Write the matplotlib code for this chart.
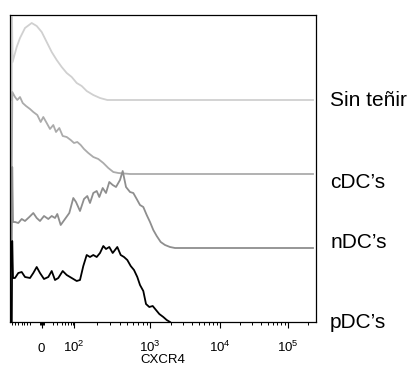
import matplotlib
matplotlib.use("Agg")
import matplotlib.pyplot as plt
import matplotlib.transforms as mtransforms
import numpy as np

plt.rcParams['font.family'] = ['Liberation Sans', 'DejaVu Sans']
plt.rcParams['mathtext.fontset'] = 'custom'
plt.rcParams['mathtext.rm'] = 'Liberation Sans'
plt.rcParams['mathtext.it'] = 'Liberation Sans:italic'
plt.rcParams['mathtext.bf'] = 'Liberation Sans:bold'

# ---- data (x = display channel, h = relative count) ----
sin_x = [1.8, 2.0, 2.6, 6.7, 10, 15, 21.7, 26.7, 31.7, 36.7, 41.7, 46.7, 51.7, 56.7,
         61.7, 66.7, 71.7, 76.7, 83.3, 90, 97.3, 303]
sin_h = [0, 83, 38, 53, 62, 72, 77, 74, 68, 58, 48, 40, 33, 27, 23, 17, 14, 9, 5, 2, 0, 0]

cdc_x = [1.8, 2.3, 5, 7.3, 10, 12.7, 16, 20, 23.3, 27.3, 30.7, 33.3, 36.7, 40, 43.3, 46,
         49.3, 52.7, 56.7, 60.7, 64, 67.3, 70.7, 74, 78.3, 83.3, 88.3, 93.3, 98.3, 103.3,
         108.3, 120, 303]
cdc_h = [0, 82, 77, 74, 77, 71, 68, 65, 62, 59, 52, 57, 51, 45, 49, 42, 46, 38, 37, 34,
         31, 32, 29, 25, 21, 17, 15, 11, 6, 2, 1, 0, 0]

ndc_x = [1.8, 2.2, 3, 5, 8.3, 11.7, 15, 19.3, 23.3, 26.7, 30, 34, 38.3, 41.7, 45, 47.3,
         50.7, 55, 59.3, 63.3, 66, 70, 74, 77.3, 80, 83.3, 86.7, 89.3, 92.7, 96, 99.3,
         102.7, 106, 110, 112.7, 116, 120, 123.3, 126.7, 130, 133.3, 136.7, 140, 143.3,
         146.7, 150.7, 155, 160, 165, 303]
ndc_h = [0, 81, 26, 26, 25, 29, 27, 31, 35, 30, 27, 32, 29, 32, 30, 34, 23, 29, 35, 50,
         46, 37, 49, 52, 45, 55, 57, 51, 60, 55, 66, 63, 61, 68, 77, 61, 56, 55, 49, 43,
         41, 33, 26, 18, 12, 6, 3, 1, 0, 0]

pdc_x = [1.8, 2.2, 3, 5, 8.3, 11.7, 15, 20, 23.3, 26.7, 30, 34, 38.3, 41.7, 45, 48.3,
         52.7, 56.7, 61.7, 66.7, 70, 73.3, 76.7, 80, 83.3, 86.7, 90, 93.3, 96, 99.3,
         102.7, 107.3, 110.7, 114, 117.3, 120.7, 124, 127.3, 130, 133.3, 136, 139.3,
         142.7, 146, 149.3, 153.3, 156.7, 160]
pdc_h = [0, 81, 44, 44, 49, 50, 45, 44, 49, 55, 49, 43, 45, 51, 42, 44, 51, 47, 44, 41,
         42, 56, 67, 65, 67, 65, 69, 76, 73, 75, 69, 75, 67, 65, 62, 56, 52, 45, 37, 31,
         18, 15, 16, 12, 8, 5, 2, 0]

labels = ["Sin teñir", "cDC\u2019s", "nDC\u2019s", "pDC\u2019s"]
tick_pos = [31.5, 64, 140, 210, 278]
tick_labels = ["0", "$10^2$", "$10^3$", "$10^4$", "$10^5$"]
xlabel = "CXCR4"

# ---- styling / layout ----
series = [(sin_x, sin_h), (cdc_x, cdc_h), (ndc_x, ndc_h), (pdc_x, pdc_h)]
colors = ["#d0d0d0", "#ababab", "#8e8e8e", "#000000"]
offsets = [3, 2, 1, 0]
spacing = 74
label_y = [222, 140, 80, 0]

W, H = 412, 367
fig = plt.figure(figsize=(W / 100, H / 100), dpi=100)
ax = fig.add_axes([10 / W, 45 / H, 306 / W, 307 / H])

for (x, h), c, off in zip(series, colors, offsets):
    y = np.asarray(h, float) + off * spacing
    ax.plot(x, y, color=c, lw=1.3, solid_joinstyle='round')

ax.set_xlim(0, 306)
ax.set_ylim(0, 307)
ax.set_yticks([])

# minor ticks
minor = [1.7, 5, 8.3, 11.7, 14, 16.7, 20, 29.5, 30.5, 32.5, 33.5,
         43.3, 47.3, 51.7, 55, 58.3, 60.7, 62.7]
for start, width in zip([64, 140, 210, 278], [76, 70, 68, 68]):
    for m in range(2, 10):
        p = start + width * np.log10(m)
        if p < 305:
            minor.append(p)

ax.set_xticks(tick_pos)
ax.set_xticklabels(tick_labels)
ax.set_xticks(minor, minor=True)
ax.tick_params(axis='x', which='major', direction='out', length=4.3, width=0.8,
               labelsize=9.5, pad=17.5)
ax.tick_params(axis='x', which='minor', direction='out', length=2.5, width=0.7)
for t in ax.get_xticklabels():
    t.set_verticalalignment('baseline')

for s in ax.spines.values():
    s.set_linewidth(0.9)

ax.set_xlabel(xlabel, fontsize=9.5)
ax.xaxis.set_label_coords(0.5, -0.105)
ax.xaxis.label.set_verticalalignment('top')

trans = mtransforms.blended_transform_factory(ax.transAxes, ax.transData)
for lab, yy in zip(labels, label_y):
    ax.text(1.046, yy, lab, transform=trans, fontsize=15, va='center', ha='left',
            clip_on=False)

fig.savefig("out.png", dpi=100)
